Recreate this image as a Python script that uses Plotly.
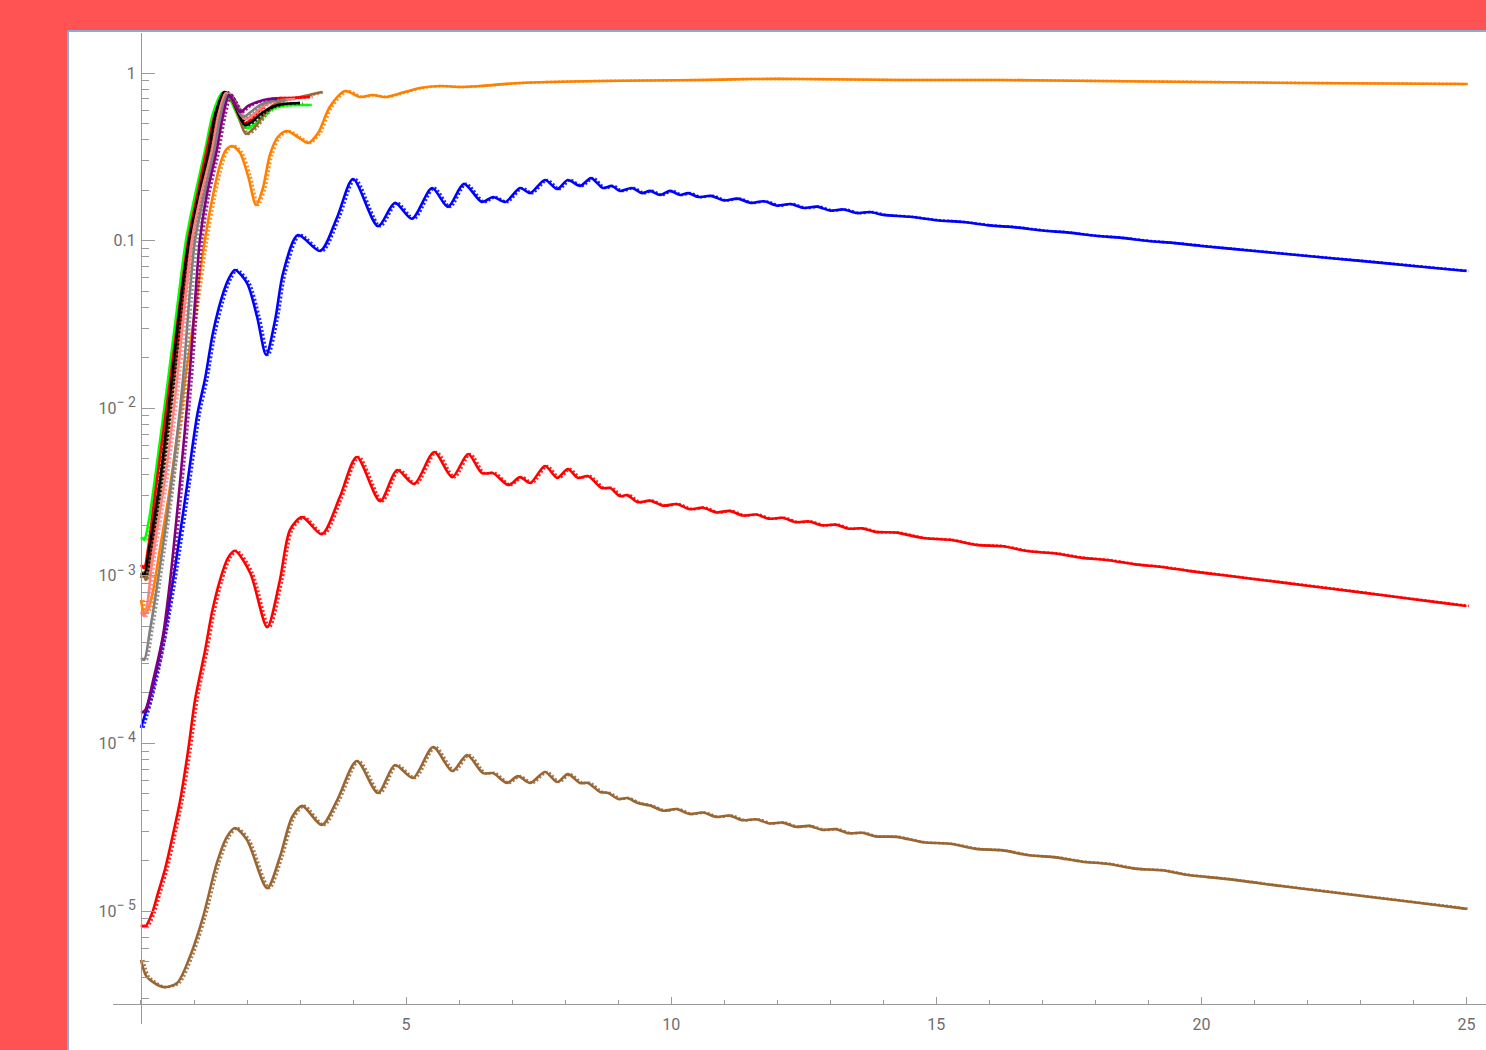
import plotly.graph_objects as go

# ---- long-time curves -------------------------------------------------------
orange_x = [0, 0.06, 0.13, 0.23, 0.36, 0.51, 0.66, 0.83, 1.02, 1.19, 1.34, 1.49, 1.60, 1.72,
            1.87, 2.02, 2.17, 2.30, 2.43, 2.58, 2.75, 2.96, 3.15, 3.34, 3.56, 3.85, 4.13,
            4.36, 4.60, 4.85, 5.26, 5.64, 6.02, 6.39, 7.15, 8.66, 10.54, 11.49, 12.43,
            14.32, 16.2, 18.09, 19.97, 21.9, 25.0]
orange_y = [7.17e-4, 6.08e-4, 6.25e-4, 8.22e-4, 1.47e-3, 2.83e-3, 6.03e-3, 0.0147, 0.0385,
            0.0942, 0.175, 0.283, 0.347, 0.367, 0.333, 0.243, 0.163, 0.206, 0.324, 0.415,
            0.451, 0.415, 0.382, 0.438, 0.627, 0.781, 0.719, 0.739, 0.719, 0.750, 0.814,
            0.836, 0.825, 0.836, 0.872, 0.896, 0.908, 0.921, 0.921, 0.908, 0.908, 0.896,
            0.884, 0.872, 0.860]

blue_x = [0, 0.075, 0.17, 0.30, 0.45, 0.64, 0.87, 1.06, 1.21, 1.36, 1.55, 1.66, 1.77, 2.00,
          2.19, 2.36, 2.53, 2.68, 2.96, 3.38, 3.70, 4.00, 4.47, 4.79, 5.11, 5.49, 5.79,
          6.09, 6.43, 6.64, 6.87, 7.15, 7.34, 7.62, 7.85, 8.05, 8.28, 8.49, 8.71, 8.88,
          9.03, 9.26, 9.45, 9.60, 9.79, 9.98, 10.17, 10.32, 10.51, 10.75, 11.0, 11.25,
          11.5, 11.75, 12.0, 12.25, 12.5, 12.75, 13.0, 13.25, 13.5, 13.75, 14.0, 14.5,
          15.0, 15.5, 16.0, 16.5, 17.0, 17.5, 18.0, 18.5, 19.0, 19.5, 20, 21, 22, 23, 24, 25]
blue_y = [1.24e-4, 1.48e-4, 1.89e-4, 2.82e-4, 4.89e-4, 1.11e-3, 3.48e-3, 9.10e-3, 0.0151,
          0.0285, 0.0487, 0.0598, 0.0668, 0.0558, 0.035, 0.0208, 0.0336, 0.0641, 0.108,
          0.0867, 0.138, 0.233, 0.122, 0.168, 0.135, 0.206, 0.159, 0.218, 0.170, 0.182,
          0.170, 0.206, 0.192, 0.230, 0.203, 0.230, 0.212, 0.236, 0.206, 0.212, 0.198,
          0.206, 0.192, 0.198, 0.187, 0.198, 0.187, 0.192, 0.182, 0.1849, 0.1735, 0.1780,
          0.1678, 0.1717, 0.1618, 0.1653, 0.1565, 0.1595, 0.1510, 0.1535, 0.1460, 0.1481,
          0.1424, 0.1387, 0.1324, 0.1290, 0.1233, 0.1200, 0.1148, 0.1116, 0.1068, 0.1038,
          0.0994, 0.0966, 0.0929, 0.0867, 0.0809, 0.0757, 0.0706, 0.0659]

red_x = [0, 0.075, 0.21, 0.32, 0.45, 0.58, 0.74, 0.89, 1.02, 1.21, 1.34, 1.49, 1.64, 1.77,
         2.06, 2.38, 2.62, 2.81, 3.04, 3.41, 3.75, 4.07, 4.51, 4.83, 5.15, 5.53, 5.87,
         6.17, 6.43, 6.64, 6.93, 7.15, 7.34, 7.62, 7.85, 8.05, 8.24, 8.43, 8.69, 8.85,
         9.03, 9.17, 9.37, 9.6, 9.85, 10.1, 10.35, 10.6, 10.85, 11.1, 11.35, 11.6, 11.85,
         12.1, 12.35, 12.6, 12.85, 13.1, 13.35, 13.6, 13.85, 14.25, 14.75, 15.25, 15.75,
         16.25, 16.75, 17.25, 17.75, 18.25, 18.75, 19.25, 19.75, 20.5, 21.5, 22.5, 23.5,
         24.5, 25]
red_y = [8.26e-6, 8.03e-6, 9.73e-6, 1.28e-5, 1.76e-5, 2.65e-5, 4.59e-5, 9.14e-5, 1.82e-4,
         3.61e-4, 6.08e-4, 9.44e-4, 1.28e-3, 1.41e-3, 1.04e-3, 4.94e-4, 9.44e-4, 1.88e-3,
         2.24e-3, 1.77e-3, 2.95e-3, 5.12e-3, 2.79e-3, 4.28e-3, 3.53e-3, 5.48e-3, 3.88e-3,
         5.33e-3, 4.10e-3, 4.10e-3, 3.48e-3, 3.88e-3, 3.58e-3, 4.52e-3, 3.84e-3, 4.34e-3,
         3.84e-3, 3.94e-3, 3.34e-3, 3.34e-3, 2.99e-3, 3.03e-3, 2.75e-3, 2.81e-3, 2.62e-3,
         2.68e-3, 2.50e-3, 2.55e-3, 2.39e-3, 2.44e-3, 2.29e-3, 2.32e-3, 2.19e-3, 2.22e-3,
         2.09e-3, 2.11e-3, 2.00e-3, 2.02e-3, 1.91e-3, 1.92e-3, 1.83e-3, 1.81e-3, 1.68e-3,
         1.64e-3, 1.53e-3, 1.50e-3, 1.40e-3, 1.36e-3, 1.28e-3, 1.24e-3, 1.17e-3, 1.13e-3,
         1.07e-3, 1.00e-3, 9.14e-4, 8.34e-4, 7.60e-4, 6.92e-4, 6.61e-4]

brown_x = [0, 0.04, 0.11, 0.41, 0.68, 0.92, 1.17, 1.43, 1.62, 1.77, 2.00, 2.38, 2.62, 2.85,
           3.04, 3.41, 3.70, 4.07, 4.47, 4.79, 5.13, 5.51, 5.87, 6.15, 6.45, 6.64, 6.90,
           7.11, 7.34, 7.62, 7.85, 8.05, 8.28, 8.43, 8.66, 8.81, 9.00, 9.17, 9.37, 9.6,
           9.85, 10.1, 10.35, 10.6, 10.85, 11.1, 11.35, 11.6, 11.85, 12.1, 12.35, 12.6,
           12.85, 13.1, 13.35, 13.6, 13.85, 14.25, 14.75, 15.25, 15.75, 16.25, 16.75,
           17.25, 17.75, 18.25, 18.75, 19.25, 19.75, 20.5, 21.5, 22.5, 23.5, 24.5, 25]
brown_y = [5.10e-6, 4.57e-6, 4.04e-6, 3.52e-6, 3.72e-6, 5.32e-6, 9.20e-6, 1.93e-5, 2.77e-5,
           3.13e-5, 2.65e-5, 1.37e-5, 2.10e-5, 3.64e-5, 4.24e-5, 3.26e-5, 4.59e-5, 7.85e-5,
           5.06e-5, 7.43e-5, 6.22e-5, 9.52e-5, 6.84e-5, 8.53e-5, 6.65e-5, 6.65e-5, 5.81e-5,
           6.38e-5, 5.81e-5, 6.75e-5, 5.89e-5, 6.56e-5, 5.81e-5, 5.81e-5, 5.13e-5, 5.06e-5,
           4.66e-5, 4.72e-5, 4.41e-5, 4.26e-5, 3.97e-5, 4.06e-5, 3.79e-5, 3.87e-5, 3.64e-5,
           3.71e-5, 3.48e-5, 3.53e-5, 3.33e-5, 3.37e-5, 3.18e-5, 3.22e-5, 3.05e-5, 3.08e-5,
           2.91e-5, 2.93e-5, 2.79e-5, 2.77e-5, 2.57e-5, 2.52e-5, 2.35e-5, 2.30e-5, 2.15e-5,
           2.09e-5, 1.97e-5, 1.91e-5, 1.79e-5, 1.75e-5, 1.64e-5, 1.55e-5, 1.41e-5, 1.29e-5,
           1.18e-5, 1.08e-5, 1.03e-5]

# ---- short-time curves -----------------------------------------------------
green_x = [0, 0.06, 0.15, 0.26, 0.51, 0.70, 0.85, 1.02, 1.21, 1.36, 1.53, 1.64, 1.75, 1.87,
           2.00, 2.15, 2.30, 2.47, 2.66, 2.92, 3.19]
green_y = [1.70e-3, 1.64e-3, 2.15e-3, 3.73e-3, 0.01473, 0.0442, 0.1008, 0.187, 0.347,
           0.577, 0.760, 0.729, 0.627, 0.517, 0.469, 0.496, 0.554, 0.610, 0.636, 0.644,
           0.644]

red2_x = [0, 0.06, 0.13, 0.30, 0.55, 0.74, 0.89, 1.06, 1.24, 1.40, 1.57, 1.68, 1.79, 1.94,
          2.09, 2.24, 2.47, 2.81, 3.19]
red2_y = [1.16e-3, 1.11e-3, 1.43e-3, 3.73e-3, 0.01473, 0.0442, 0.1008, 0.187, 0.347, 0.577,
          0.760, 0.719, 0.618, 0.503, 0.532, 0.601, 0.700, 0.709, 0.719]

black_x = [0, 0.06, 0.15, 0.36, 0.58, 0.75, 0.91, 1.09, 1.28, 1.41, 1.57, 1.68, 1.81, 1.96,
           2.11, 2.28, 2.47, 2.68, 3.00]
black_y = [1.04e-3, 1.01e-3, 1.43e-3, 3.73e-3, 0.01473, 0.0442, 0.1008, 0.187, 0.347,
           0.577, 0.770, 0.729, 0.601, 0.489, 0.517, 0.577, 0.627, 0.653, 0.662]

brown2_x = [0, 0.04, 0.09, 0.17, 0.38, 0.62, 0.79, 0.94, 1.11, 1.30, 1.43, 1.58, 1.70, 1.83,
            1.98, 2.15, 2.30, 2.47, 2.72, 3.00, 3.41]
brown2_y = [9.70e-4, 1.05e-3, 9.44e-4, 1.24e-3, 3.73e-3, 0.01473, 0.0442, 0.1008, 0.187,
            0.347, 0.577, 0.760, 0.709, 0.562, 0.433, 0.476, 0.554, 0.636, 0.690, 0.719,
            0.770]

pink_x = [0, 0.06, 0.13, 0.21, 0.45, 0.68, 0.83, 0.96, 1.13, 1.34, 1.47, 1.60, 1.72, 1.83,
          1.96, 2.11, 2.28, 2.53, 2.90]
pink_y = [6.08e-4, 5.76e-4, 7.17e-4, 1.24e-3, 3.73e-3, 0.01473, 0.0442, 0.1008, 0.187,
          0.347, 0.577, 0.760, 0.700, 0.610, 0.532, 0.562, 0.627, 0.681, 0.700]

gray_x = [0, 0.06, 0.17, 0.32, 0.58, 0.79, 0.91, 1.02, 1.19, 1.38, 1.51, 1.62, 1.72, 1.81,
          1.92, 2.07, 2.24, 2.47, 2.72]
gray_y = [3.23e-4, 3.15e-4, 4.75e-4, 9.44e-4, 3.73e-3, 0.01473, 0.0442, 0.1008, 0.187,
          0.347, 0.577, 0.739, 0.690, 0.618, 0.546, 0.585, 0.644, 0.681, 0.690]

purple_x = [0, 0.08, 0.23, 0.41, 0.55, 0.74, 0.91, 1.02, 1.11, 1.24, 1.43, 1.55, 1.66, 1.75,
            1.87, 2.02, 2.19, 2.40, 2.57]
purple_y = [1.52e-4, 1.58e-4, 2.39e-4, 4.31e-4, 9.44e-4, 3.73e-3, 0.01473, 0.0442, 0.1008,
            0.187, 0.347, 0.562, 0.739, 0.671, 0.585, 0.636, 0.671, 0.700, 0.700]

# ---- axis ticks --------------------------------------------------------------
x_ticks = [5, 10, 15, 20, 25]
x_labels = ["5", "10", "15", "20", "25"]
y_ticks = [1e-5, 1e-4, 1e-3, 1e-2, 0.1, 1]
sup = "<sup><span style='font-size:14px'>\u2212 {}</span></sup>"
y_labels = ["10" + sup.format(5), "10" + sup.format(4), "10" + sup.format(3),
            "10" + sup.format(2), "0.1", "1"]
y_minor = [m * 10.0 ** k for k in range(-6, 1) for m in range(2, 10)]

curves = [
    (brown_x, brown_y, "#996633"),
    (red_x, red_y, "#FF0000"),
    (blue_x, blue_y, "#0000FF"),
    (orange_x, orange_y, "#FF8000"),
    (green_x, green_y, "#00FF00"),
    (brown2_x, brown2_y, "#996633"),
    (red2_x, red2_y, "#FF0000"),
    (black_x, black_y, "#000000"),
    (pink_x, pink_y, "#FF8080"),
    (gray_x, gray_y, "#808080"),
    (purple_x, purple_y, "#800080"),
]

fig = go.Figure()
for xs, ys, color in curves:
    # dotted companion curve, drawn slightly to the right of the solid one
    fig.add_trace(go.Scatter(
        x=[v + 0.045 for v in xs], y=ys, mode="lines",
        line=dict(color=color, width=2.6, dash="2px,2px", shape="spline", smoothing=0.8),
        opacity=0.85, hoverinfo="skip", showlegend=False))
    fig.add_trace(go.Scatter(
        x=xs, y=ys, mode="lines",
        line=dict(color=color, width=2.6, shape="spline", smoothing=0.8),
        hoverinfo="skip", showlegend=False))

axis_gray = "#9a9a9a"
label_font = dict(family="Roboto, Open Sans, sans-serif", size=16, color="#6e6e6e")

fig.update_layout(
    width=1486, height=1050,
    margin=dict(l=113, r=0, t=33, b=26),
    paper_bgcolor="#FF5252",
    plot_bgcolor="rgba(0,0,0,0)",
    showlegend=False,
    shapes=[
        dict(type="rect", xref="paper", yref="paper", x0=-0.0328, x1=1.02, y0=-0.04,
             y1=1.002, fillcolor="white", line=dict(width=0), layer="below"),
        dict(type="line", xref="paper", yref="paper", x0=-0.0328, x1=-0.0328, y0=-0.04,
             y1=1.002, line=dict(color="#86ADD8", width=2), layer="below"),
        dict(type="line", xref="paper", yref="paper", x0=-0.0328, x1=1.02, y0=1.002,
             y1=1.002, line=dict(color="#86ADD8", width=2), layer="below"),
    ],
    xaxis=dict(
        type="linear", range=[-0.528, 25.368], anchor="free", position=0.0202,
        showline=True, linecolor=axis_gray, linewidth=1, showgrid=False, zeroline=False,
        ticks="inside", ticklen=7, tickwidth=1, tickcolor=axis_gray,
        tickmode="array", tickvals=x_ticks, ticktext=x_labels, tickfont=label_font,
        ticklabelstandoff=6,
        minor=dict(ticks="inside", ticklen=4, tickwidth=1, tickcolor=axis_gray,
                   tickmode="linear", tick0=0, dtick=1, showgrid=False),
    ),
    yaxis=dict(
        type="log", range=[-5.674, 0.2387], anchor="free", position=0.0204, side="left",
        showline=True, linecolor=axis_gray, linewidth=1, showgrid=False, zeroline=False,
        ticks="inside", ticklen=13, tickwidth=1, tickcolor=axis_gray,
        tickmode="array", tickvals=y_ticks, ticktext=y_labels, tickfont=label_font,
        ticklabelstandoff=2,
        minor=dict(ticks="inside", ticklen=7, tickwidth=1, tickcolor=axis_gray,
                   tickmode="array", tickvals=y_minor, showgrid=False),
    ),
)

fig.write_html("out.html")
